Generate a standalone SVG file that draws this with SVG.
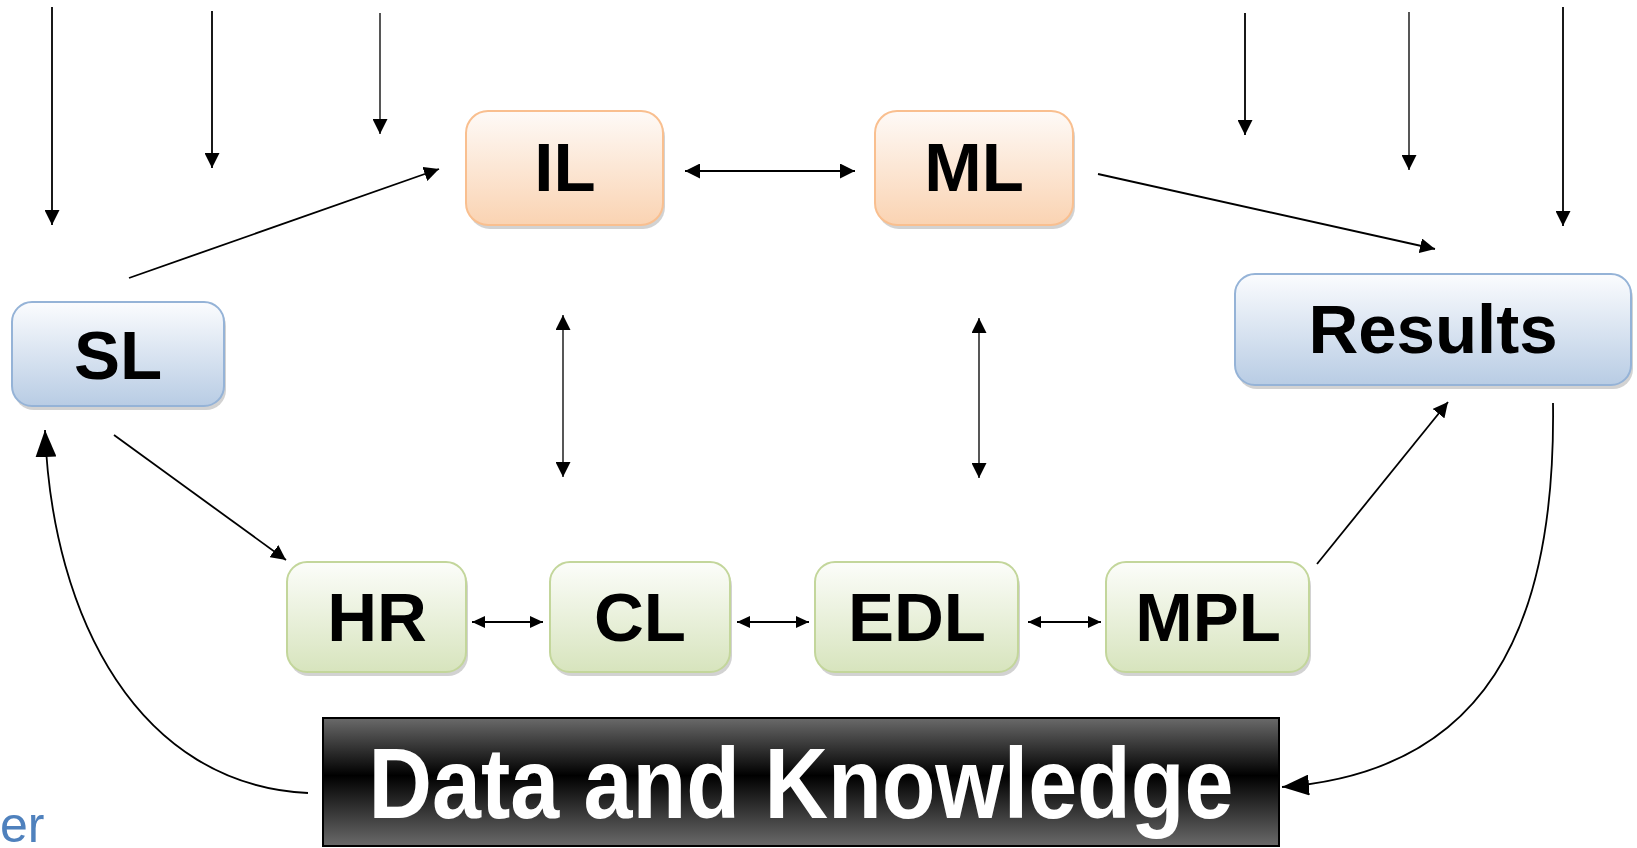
<svg xmlns="http://www.w3.org/2000/svg" width="1637" height="848" viewBox="0 0 1637 848">
  <style>
    .lbl { font-family: "Liberation Sans", Arial, sans-serif; font-weight: bold; font-size: 69px; fill: #000; text-anchor: middle; }
    .big { font-family: "Liberation Sans", Arial, sans-serif; font-weight: bold; font-size: 100px; fill: #fff; text-anchor: middle; }
    .shadow { fill: #7f7f7f; opacity: 0.35; }
    .blue { fill: url(#gBlue); stroke: #95b3d7; stroke-width: 2; }
    .orange { fill: url(#gOrange); stroke: #f9bf8f; stroke-width: 2; }
    .green { fill: url(#gGreen); stroke: #c3d69b; stroke-width: 2; }
    .ln { fill: none; stroke: #000; stroke-width: 1.8; }
    .gr { stroke: #444; }
    .one { marker-end: url(#ah); }
    .two { marker-start: url(#ah); marker-end: url(#ah); }
    .sm { marker-start: url(#ahs); marker-end: url(#ahs); }
    .crv { marker-end: url(#ahb); }
  </style>
  <defs>
    <linearGradient id="gBlue" x1="0" y1="0" x2="0" y2="1">
      <stop offset="0" stop-color="#fbfcfe"/>
      <stop offset="1" stop-color="#b8cce4"/>
    </linearGradient>
    <linearGradient id="gOrange" x1="0" y1="0" x2="0" y2="1">
      <stop offset="0" stop-color="#fefaf7"/>
      <stop offset="1" stop-color="#fad3b2"/>
    </linearGradient>
    <linearGradient id="gGreen" x1="0" y1="0" x2="0" y2="1">
      <stop offset="0" stop-color="#fcfdfa"/>
      <stop offset="1" stop-color="#d7e4bd"/>
    </linearGradient>
    <linearGradient id="gDark" x1="0" y1="0" x2="0" y2="1">
      <stop offset="0" stop-color="#6a6a6a"/>
      <stop offset="0.45" stop-color="#000"/>
      <stop offset="1" stop-color="#6a6a6a"/>
    </linearGradient>
    <marker id="ah" viewBox="0 0 15 15" refX="15" refY="7.5" markerWidth="15" markerHeight="15" markerUnits="userSpaceOnUse" orient="auto-start-reverse">
      <path d="M0,0 L15,7.5 L0,15 z" fill="#000"/>
    </marker>
    <marker id="ahs" viewBox="0 0 13 12" refX="13" refY="6" markerWidth="13" markerHeight="12" markerUnits="userSpaceOnUse" orient="auto-start-reverse">
      <path d="M0,0 L13,6 L0,12 z" fill="#000"/>
    </marker>
    <marker id="ahb" viewBox="0 0 27 21" refX="27" refY="10.5" markerWidth="27" markerHeight="21" markerUnits="userSpaceOnUse" orient="auto">
      <path d="M0,0 L27,10.5 L0,21 z" fill="#000"/>
    </marker>
  </defs>

  <!-- connectors -->
  <g id="connectors">
    <!-- incoming arrows along the top edge -->
    <line class="ln one" x1="52" y1="7" x2="52" y2="225"/>
    <line class="ln one" x1="212" y1="11" x2="212" y2="168" stroke-width="2.4"/>
    <line class="ln one gr" x1="380" y1="13" x2="380" y2="134"/>
    <line class="ln one" x1="1245" y1="13" x2="1245" y2="135"/>
    <line class="ln one gr" x1="1409" y1="12" x2="1409" y2="170"/>
    <line class="ln one" x1="1563" y1="7" x2="1563" y2="226" stroke="#222"/>
    <!-- top layer flow -->
    <line class="ln one" x1="129" y1="278" x2="439" y2="169"/>
    <line class="ln two" x1="685" y1="171" x2="855" y2="171"/>
    <line class="ln one" x1="1098" y1="174" x2="1435" y2="249"/>
    <!-- links between top and bottom layers -->
    <line class="ln two gr" x1="563" y1="315" x2="563" y2="477"/>
    <line class="ln two gr" x1="979" y1="318" x2="979" y2="478"/>
    <!-- bottom layer flow -->
    <line class="ln one" x1="114" y1="435" x2="286" y2="560"/>
    <line class="ln sm" x1="472" y1="622" x2="543" y2="622"/>
    <line class="ln sm" x1="737" y1="622" x2="809" y2="622"/>
    <line class="ln sm" x1="1028" y1="622" x2="1101" y2="622"/>
    <line class="ln one" x1="1317" y1="564" x2="1448" y2="402"/>
    <!-- feedback loops -->
    <path class="ln crv" d="M308,793 C140,785 52,620 45,430"/>
    <path class="ln crv" d="M1553,403 C1556,630 1485,772 1282,787"/>
  </g>

  <g id="node-SL">
    <rect class="shadow" x="14" y="306" width="212" height="104" rx="20"/>
    <rect class="blue" x="12" y="302" width="212" height="104" rx="20"/>
    <text class="lbl" x="118" y="379">SL</text>
  </g>
  <g id="node-IL">
    <rect class="shadow" x="468" y="115" width="197" height="114" rx="22"/>
    <rect class="orange" x="466" y="111" width="197" height="114" rx="22"/>
    <text class="lbl" x="565" y="191">IL</text>
  </g>
  <g id="node-ML">
    <rect class="shadow" x="877" y="115" width="198" height="114" rx="22"/>
    <rect class="orange" x="875" y="111" width="198" height="114" rx="22"/>
    <text class="lbl" x="974" y="191">ML</text>
  </g>
  <g id="node-Results">
    <rect class="shadow" x="1237" y="278" width="396" height="111" rx="20"/>
    <rect class="blue" x="1235" y="274" width="396" height="111" rx="20"/>
    <text class="lbl" x="1433" y="353">Results</text>
  </g>
  <g id="node-HR">
    <rect class="shadow" x="289" y="566" width="179" height="110" rx="20"/>
    <rect class="green" x="287" y="562" width="179" height="110" rx="20"/>
    <text class="lbl" x="377" y="641">HR</text>
  </g>
  <g id="node-CL">
    <rect class="shadow" x="552" y="566" width="180" height="110" rx="20"/>
    <rect class="green" x="550" y="562" width="180" height="110" rx="20"/>
    <text class="lbl" x="640" y="641">CL</text>
  </g>
  <g id="node-EDL">
    <rect class="shadow" x="817" y="566" width="203" height="110" rx="20"/>
    <rect class="green" x="815" y="562" width="203" height="110" rx="20"/>
    <text class="lbl" x="917" y="641">EDL</text>
  </g>
  <g id="node-MPL">
    <rect class="shadow" x="1108" y="566" width="203" height="110" rx="20"/>
    <rect class="green" x="1106" y="562" width="203" height="110" rx="20"/>
    <text class="lbl" x="1208" y="641">MPL</text>
  </g>
  <g id="node-DataKnowledge">
    <rect x="323" y="718" width="956" height="128" fill="url(#gDark)" stroke="#000" stroke-width="2"/>
    <text class="big" x="801" y="818" textLength="865" lengthAdjust="spacingAndGlyphs">Data and Knowledge</text>
  </g>

  <text x="0" y="842" font-family="'Liberation Sans', Arial, sans-serif" font-size="50" fill="#4f81bd">er</text>
</svg>
